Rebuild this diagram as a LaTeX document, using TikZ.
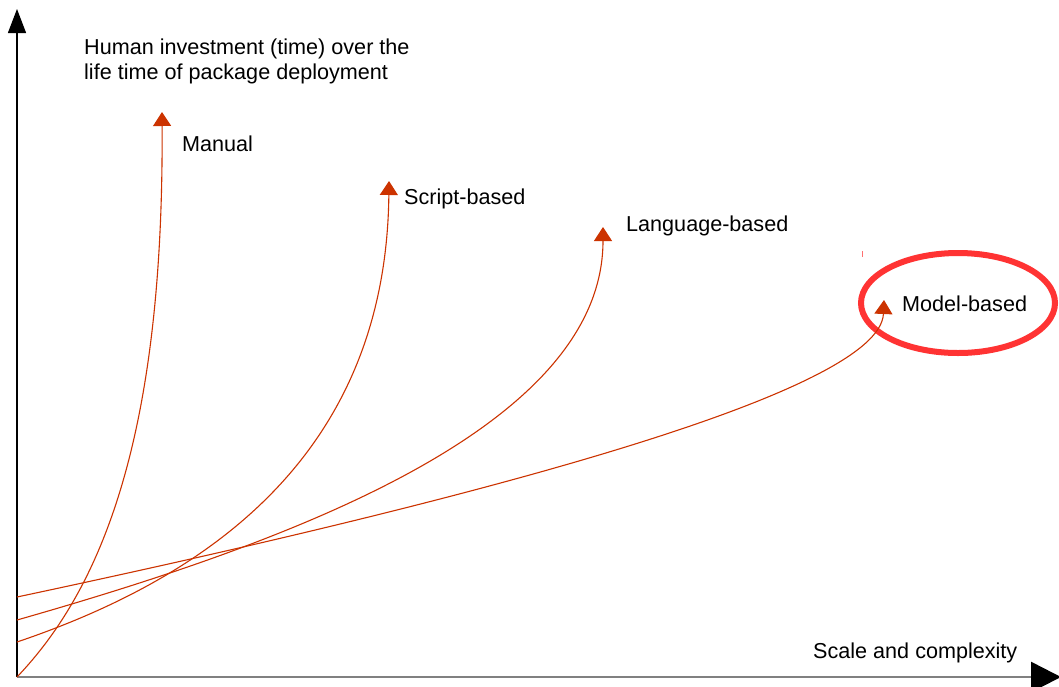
\documentclass[tikz,border=0pt]{standalone}
\usepackage{fontspec}
\setmainfont{Liberation Sans}
\usetikzlibrary{arrows.meta}
\definecolor{curvered}{RGB}{204,51,0}
\definecolor{ringred}{RGB}{255,51,51}
\definecolor{axisgray}{RGB}{128,128,128}
\begin{document}
\begin{tikzpicture}[x=1pt,y=-1pt,
  lbl/.style={anchor=base west, inner sep=0pt, font=\fontsize{21.6}{25}\selectfont},
  growth/.style={draw=curvered, line width=1.1pt, -{Triangle[length=14pt,width=18pt]}},
  yaxis/.style={draw=black, line width=1.3pt, -{Triangle[length=24pt,width=18pt]}},
  xaxis/.style={draw=axisgray, line width=2.6pt, -{Triangle[length=30pt,width=30pt,color=black,fill=black]}},
  ring/.style={draw=ringred, line width=6pt}]
\useasboundingbox (0,0) rectangle (1059,686);
\fill[white] (0,0) rectangle (1059,686);

% axes
\coordinate (O) at (17,677);
\coordinate (ytop) at (17,9);
\coordinate (xend) at (1061,677);
\draw[yaxis] (O) -- (ytop);
\draw[xaxis] (O) -- (xend);

% highlight ring
\draw[ring] (958,303) ellipse [x radius=97pt, y radius=50pt];
\draw[ringred!70, line width=1pt] (862,251) -- (862,257);

% start and tip points
\coordinate (s1) at (17,677);
\coordinate (s2) at (17,642);
\coordinate (s3) at (17,620);
\coordinate (s4) at (17,597);
\coordinate (t1) at (162,112);
\coordinate (t2) at (389,181);
\coordinate (t3) at (603,227);
\coordinate (t4) at (884,300);

% curves
\draw[growth] (s1) .. controls (100,590) and (164,440) .. (t1);
\draw[growth] (s2) .. controls (200,580) and (386,460) .. (t2);
\draw[growth] (s3) .. controls (280,545) and (603,430) .. (t3);
\draw[growth] (s4) .. controls (450,505) and (880,395) .. (t4);

% labels
\node[lbl, align=left] (ylabel) at (84,79) {Human investment (time) over the\\life time of package deployment};
\node[lbl] (manual) at (182,151) {Manual};
\node[lbl] (script) at (404,204) {Script-based};
\node[lbl] (lang) at (626,231) {Language-based};
\node[lbl] (model) at (902,311) {Model-based};
\node[lbl] (xlabel) at (813,658) {Scale and complexity};
\end{tikzpicture}
\end{document}
